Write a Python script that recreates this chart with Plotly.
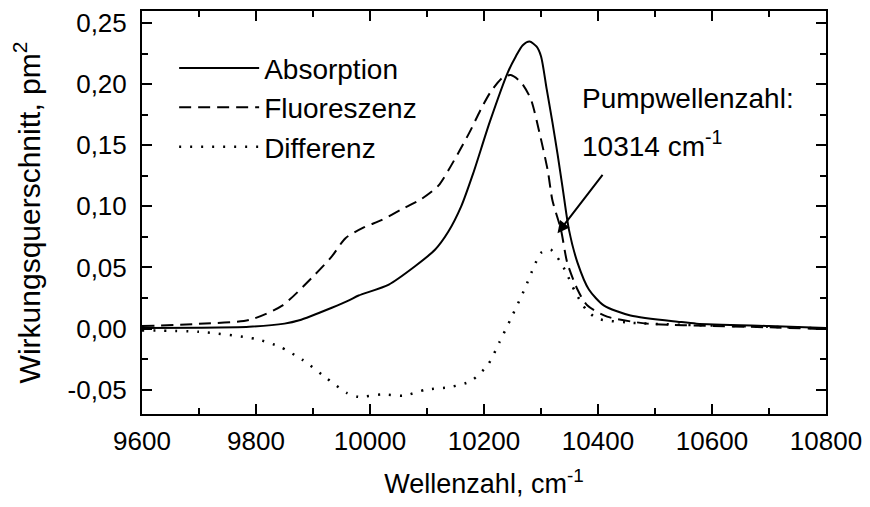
import plotly.graph_objects as go

# Absorption (solid)
abs_x = [9600, 9700, 9788, 9850, 9876, 9933, 9963, 9980, 10033, 10079, 10114, 10137, 10160,
         10181, 10210, 10242, 10256, 10268, 10280, 10292, 10300, 10310, 10320, 10329, 10338,
         10349, 10364, 10384, 10410, 10457, 10544, 10573, 10700, 10800]
abs_y = [0.0005, 0.0007, 0.0015, 0.004, 0.0067, 0.017, 0.023, 0.027, 0.036, 0.051, 0.0645, 0.079, 0.100,
         0.127, 0.169, 0.210, 0.223, 0.232, 0.235, 0.231, 0.223, 0.196, 0.169, 0.143, 0.115,
         0.081, 0.054, 0.032, 0.019, 0.0107, 0.0054, 0.004, 0.002, 0.0005]

# Fluoreszenz (dashed)
flu_x = [9600, 9700, 9788, 9846, 9899, 9933, 9957, 9990, 10020, 10055, 10090, 10120, 10154,
         10175, 10195, 10212, 10233, 10247, 10265, 10282, 10297, 10312, 10320, 10335, 10346,
         10364, 10381, 10416, 10486, 10550, 10700, 10800]
flu_y = [0.002, 0.0038, 0.007, 0.0188, 0.042, 0.059, 0.074, 0.083, 0.0887, 0.0975, 0.106, 0.117, 0.143,
         0.161, 0.180, 0.194, 0.2056, 0.2075, 0.2016, 0.188, 0.161, 0.129, 0.105, 0.081, 0.054,
         0.032, 0.019, 0.0097, 0.004, 0.0027, 0.001, -0.0005]

# Differenz (dotted)
dif_x = [9600, 9700, 9800, 9841, 9881, 9922, 9960, 9980, 10021, 10059, 10099, 10140, 10177,
         10207, 10227, 10247, 10271, 10288, 10300, 10317, 10332, 10343, 10360, 10380, 10400,
         10450, 10550, 10700, 10800]
dif_y = [-0.0016, -0.0027, -0.0086, -0.0148, -0.0255, -0.040, -0.053, -0.056, -0.054, -0.055, -0.050, -0.048, -0.043,
         -0.0296, -0.0113, 0.008, 0.032, 0.051, 0.062, 0.0645, 0.056, 0.047, 0.030, 0.015, 0.008,
         0.005, 0.003, 0.0015, 0.0]

x_ticks = [9600, 9800, 10000, 10200, 10400, 10600, 10800]
x_ticktext = ["9600", "9800", "10000", "10200", "10400", "10600", "10800"]
y_ticks = [-0.05, 0.0, 0.05, 0.10, 0.15, 0.20, 0.25]
y_ticktext = ["-0,05", "0,00", "0,05", "0,10", "0,15", "0,20", "0,25"]

FONT = "Liberation Sans, Arial, sans-serif"

fig = go.Figure()
fig.add_trace(go.Scatter(x=abs_x, y=abs_y, mode="lines", name="Absorption",
                         line=dict(color="black", width=2, shape="spline", smoothing=0.7),
                         legendgroup="a"))
fig.add_trace(go.Scatter(x=flu_x, y=flu_y, mode="lines", name="Fluoreszenz",
                         line=dict(color="black", width=2, dash="12px,7px", shape="spline", smoothing=0.7),
                         legendgroup="b"))
fig.add_trace(go.Scatter(x=dif_x, y=dif_y, mode="lines", name="Differenz",
                         line=dict(color="black", width=2.5, dash="2px,9px", shape="spline", smoothing=0.7),
                         legendgroup="c"))

axis_common = dict(showline=True, linecolor="black", linewidth=2, mirror="allticks",
                   ticks="inside", ticklen=10, tickwidth=2, tickcolor="black",
                   ticklabeloverflow="allow",
                   showgrid=False, zeroline=False, tickfont=dict(size=26, color="black", family=FONT))

fig.update_xaxes(range=[9600, 10800], tickmode="array", tickvals=x_ticks, ticktext=x_ticktext,
                 ticklabelstandoff=3,
                 minor=dict(tick0=9600, dtick=100, ticks="inside", ticklen=6, tickwidth=2, tickcolor="black"),
                 title=dict(text="Wellenzahl, cm<sup>-1</sup>", font=dict(size=27, color="black", family=FONT), standoff=24),
                 **axis_common)
fig.update_yaxes(range=[-0.07, 0.26], tickmode="array", tickvals=y_ticks, ticktext=y_ticktext,
                 ticklabelstandoff=8,
                 minor=dict(tick0=0, dtick=0.025, ticks="inside", ticklen=6, tickwidth=2, tickcolor="black"),
                 title=dict(text="Wirkungsquerschnitt, pm<sup>2</sup>", font=dict(size=30, color="black", family=FONT), standoff=22),
                 **axis_common)

fig.add_annotation(x=10329, y=0.078, ax=10410, ay=0.127, xref="x", yref="y", axref="x", ayref="y",
                   text="", showarrow=True, arrowhead=2, arrowsize=1.2, arrowwidth=2, arrowcolor="black")
fig.add_annotation(x=10369, y=0.188, xref="x", yref="y", text="Pumpwellenzahl:", showarrow=False,
                   xanchor="left", yanchor="middle", font=dict(size=28, color="black", family=FONT))
fig.add_annotation(x=10369, y=0.1515, xref="x", yref="y", text="10314 cm<sup>-1</sup>", showarrow=False,
                   xanchor="left", yanchor="middle", font=dict(size=28, color="black", family=FONT))

# page body has an 8px margin, so the figure is sized to fit 870x507 exactly
fig.update_layout(
    width=854, height=491,
    margin=dict(l=134, r=32, t=0, b=82),
    paper_bgcolor="white", plot_bgcolor="white",
    font=dict(family=FONT, color="black"),
    legend=dict(x=0.047, y=0.92, xanchor="left", yanchor="top", bgcolor="rgba(0,0,0,0)",
                font=dict(size=28, color="black", family=FONT), itemwidth=80,
                traceorder="grouped", tracegroupgap=0),
    showlegend=True,
)

fig.write_html("out.html")
